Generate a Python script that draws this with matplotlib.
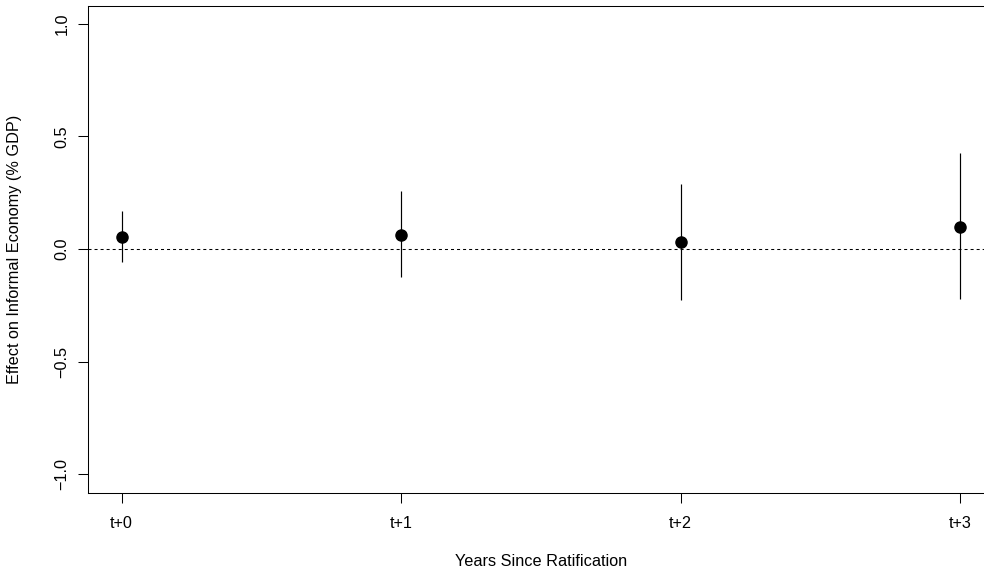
import matplotlib
matplotlib.use("Agg")
import matplotlib.pyplot as plt

# --- data ---
horizons = [0, 1, 2, 3]
tick_labels = ["t+0", "t+1", "t+2", "t+3"]
estimates = [0.053, 0.060, 0.032, 0.099]
ci_low = [-0.056, -0.125, -0.226, -0.223]
ci_high = [0.168, 0.257, 0.290, 0.428]
y_ticks = [-1.0, -0.5, 0.0, 0.5, 1.0]

plt.rcParams["font.family"] = ["Liberation Sans", "DejaVu Sans"]
FS = 11.7

fig = plt.figure(figsize=(9.84, 5.73), dpi=100)
# R-style plot region; right edge runs slightly past the image like the reference
ax = fig.add_axes([88 / 984, 80.5 / 573, 905.6 / 984, 487 / 573])

ax.axhline(0, color="black", linewidth=0.75, linestyle=(0, (2.9, 2.9)), zorder=1)
ax.vlines(horizons, ci_low, ci_high, color="black", linewidth=0.85, zorder=2)
ax.plot(horizons, estimates, "o", color="black", markersize=8, zorder=3)

ax.set_xlim(-0.12, 3.12)
ax.set_ylim(-1.08, 1.08)
ax.set_xticks(horizons)
ax.set_xticklabels(tick_labels, fontsize=FS)
ax.set_yticks(y_ticks)
ax.set_yticklabels([f"{v:.1f}".replace("-", "\u2212") for v in y_ticks], fontsize=FS,
                   rotation=90, va="center")
ax.tick_params(axis="both", direction="out", length=7.2, width=0.75, color="black")
ax.tick_params(axis="x", pad=10)
ax.tick_params(axis="y", pad=6)

for s in ax.spines.values():
    s.set_linewidth(0.75)
    s.set_color("black")

ax.set_xlabel("Years Since Ratification", fontsize=FS)
ax.xaxis.set_label_coords(0.5, -0.126)
ax.set_ylabel("Effect on Informal Economy (% GDP)", fontsize=FS)
ax.yaxis.set_label_coords(-0.073, 0.5)

fig.savefig("out.png", dpi=100)
